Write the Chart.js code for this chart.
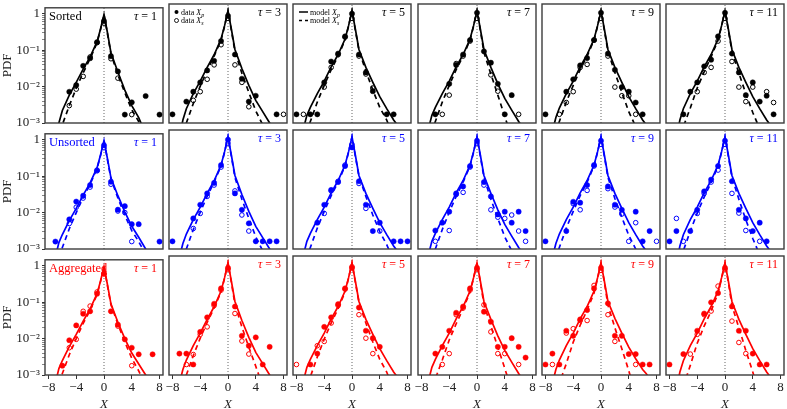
<!DOCTYPE html>
<html>
<head>
<meta charset="utf-8">
<script src="https://cdn.jsdelivr.net/npm/chart.js@4.4.1/dist/chart.umd.min.js"></script>
<style>
  html, body { margin: 0; padding: 0; background: #fff; }
  body { position: relative; width: 787px; height: 409px; overflow: hidden; }
  canvas { position: absolute; }
</style>
</head>
<body>
<script>
// ---- data -----------------------------------------------------------------
const taus = [1, 3, 5, 7, 9, 11];
const rowNames = ['Sorted', 'Unsorted', 'Aggregated'];
const rowColors = ['#000000', '#0000ff', '#ff0000'];

const xTickValues = [-8, -4, 0, 4, 8];
const xTickText = ['\u22128', '\u22124', '0', '4', '8'];
const yTickValues = [0.001, 0.01, 0.1, 1];
const yTickText = ['10\u207B\u00B3', '10\u207B\u00B2', '10\u207B\u00B9', '1'];
const yMinorDigits = [2, 3, 4, 5, 6, 7, 8, 9];

const legendData = ['data', 'data'];
const legendModel = ['model', 'model'];
const legendSubs = ['p', 's'];

// bin centres of the empirical PDFs
const dotX = [-8, -7, -6, -5, -4, -3, -2, -1, 0, 1, 2, 3, 4, 5, 6, 7, 8];
// abscissae at which the model curves are read
const curveX = [-7, -6.5, -6, -5, -4, -3, -2, -1, -0.5, 0, 0.5, 1, 2, 3, 4, 5, 6, 6.5, 7];

// ---- Sorted ----
const sortedDotsG = [
  [null, null, null, .0072, .011, .037, .06, .165, .63, .068, .026, .0017, .0037, null, .0055, null, .0017],
  [.0017, null, .0037, .0068, .012, .025, .045, .15, .7, .066, .015, .0037, .0053, null, null, .0017, null],
  [.0017, null, .0017, .0017, .012, .043, .07, .2, .8, .066, .022, .007, null, .0017, .0017, null, null],
  [null, null, .0017, null, .011, .035, .066, .16, .85, .08, .04, .011, .0017, .0055, null, null, null],
  [.0017, null, null, .0068, .0145, .034, .053, .16, .85, .07, .026, .009, .0068, .0035, .0017, null, null],
  [null, null, .0017, .0068, .012, .032, .048, .2, .85, .07, .022, .0055, .012, .0037, .0053, .0017, null]
];
const sortedDotsV = [
  [null, null, null, .003, .0085, .019, .065, .16, .55, .058, .017, null, .0017, null, null, null, null],
  [null, null, null, .004, .0068, .0145, .035, .12, .6, .035, .012, .0027, null, null, null, null, .0017],
  [null, .0017, null, null, .009, .03, .065, .19, .6, .06, .02, .0085, null, null, null, null, null],
  [null, null, null, .0017, .0055, .038, .06, .15, .6, null, .019, .007, null, null, .0017, null, null],
  [null, null, .0017, .0035, .0068, .03, .036, .16, .6, .06, .009, .0053, .0053, .0017, null, null, null],
  [null, null, null, null, .0068, .022, .03, .15, .6, .043, .009, .0037, .009, null, .0068, .0035, null]
];
const sortedModelG = [
  [.0003, .001, .0022, .0058, .013, .03, .065, .17, .38, .95, .3, .085, .025, .008, .003, .0014, .0005, .0003, .0002],
  [.0004, .0012, .0024, .006, .013, .03, .065, .17, .38, .95, .3, .09, .028, .01, .004, .002, .001, .0006, .0004],
  [.0007, .0016, .0026, .006, .013, .031, .066, .17, .38, .95, .3, .09, .03, .012, .005, .0024, .0012, .0009, .0006],
  [.0007, .0016, .0026, .006, .013, .031, .066, .17, .38, .95, .3, .09, .03, .011, .0045, .0022, .0011, .0008, .0005],
  [.0006, .0014, .0025, .006, .013, .031, .066, .17, .38, .95, .3, .09, .03, .012, .005, .0024, .0012, .0009, .0006],
  [.0004, .0012, .0024, .006, .013, .031, .066, .17, .38, .95, .3, .09, .03, .012, .005, .0024, .0012, .0009, .0006]
];
const sortedModelV = [
  [.0002, .0004, .0009, .003, .009, .024, .058, .16, .37, .95, .28, .08, .021, .0068, .0023, .0011, .0004, .0002, .0001],
  [.0002, .0005, .001, .0033, .0095, .025, .06, .16, .37, .95, .28, .08, .021, .0065, .0021, .0009, .0003, .0002, .0001],
  [.0002, .0006, .0011, .0036, .01, .026, .06, .16, .37, .95, .28, .085, .024, .0075, .0026, .0012, .0004, .0002, .0001],
  [.0002, .0006, .0011, .0036, .01, .026, .06, .16, .37, .95, .28, .075, .02, .0055, .0015, .0004, .0001, .0001, .0001],
  [.0002, .0006, .0011, .0036, .01, .026, .06, .16, .37, .95, .28, .08, .022, .0065, .002, .0008, .0002, .0001, .0001],
  [.0001, .0003, .0008, .0025, .0085, .023, .057, .16, .37, .95, .28, .08, .021, .006, .0019, .0007, .0002, .0001, .0001]
];

// ---- Unsorted ----
const unsortedDotsG = [
  [null, .0016, null, .0065, .02, .029, .057, .145, .7, .07, .012, .015, .0048, .0048, null, null, .0016],
  [.0016, null, null, .0065, .015, .03, .057, .17, .8, .03, .011, .0048, .0016, .0016, .0016, .0016, null],
  [null, null, null, .005, .015, .037, .06, .16, .5, .063, .015, .003, .005, null, .0016, .0016, .0016],
  [null, null, .0031, .005, .0098, .03, .046, .16, .75, .06, .025, .0083, .0098, .005, .0098, .003, null],
  [.0016, null, null, .003, .018, .017, .05, .17, .75, .046, .015, .011, null, .0098, .0016, .003, null],
  [.0016, .003, null, .003, .011, .034, .07, .16, .75, .063, .011, .0065, .003, .005, .0016, null, null]
];
const unsortedDotsV = [
  [null, null, null, .005, .014, .025, .05, .14, .6, .06, .011, .01, .0016, null, null, null, null],
  [null, null, null, .0035, .0088, .025, .05, .15, .65, .035, .008, .003, null, null, null, null, null],
  [null, null, null, null, .0088, .035, .063, .17, .6, .055, .012, null, .003, null, null, null, null],
  [null, null, .0016, null, .0031, .028, .032, .15, .65, .05, .011, .007, .0065, .008, .003, .0016, null],
  [null, null, null, null, .016, .011, .036, .16, .6, .04, .013, .0085, .0016, .005, null, null, .0016],
  [null, .0065, .0016, null, .0088, .03, .06, .125, .6, .03, .009, .0031, null, .0016, null, null, null]
];
const unsortedModelG = [
  [.0006, .0015, .0025, .006, .013, .03, .065, .17, .38, .95, .3, .09, .029, .0105, .0042, .0021, .001, .0007, .0005],
  [.0006, .0014, .0025, .006, .013, .03, .065, .17, .38, .95, .3, .09, .028, .01, .004, .002, .001, .0006, .0004],
  [.0007, .0016, .0026, .006, .013, .031, .066, .17, .38, .95, .3, .09, .03, .012, .005, .0024, .0012, .0009, .0006],
  [.0007, .0016, .0026, .006, .013, .031, .066, .17, .38, .95, .3, .09, .03, .011, .0045, .0022, .0011, .0008, .0005],
  [.0006, .0014, .0025, .006, .013, .031, .066, .17, .38, .95, .3, .09, .03, .012, .005, .0024, .0012, .0009, .0006],
  [.0004, .0012, .0024, .006, .013, .031, .066, .17, .38, .95, .3, .09, .03, .012, .005, .0024, .0012, .0009, .0006]
];
const unsortedModelV = [
  [.0002, .0006, .0011, .0036, .01, .026, .06, .16, .37, .95, .28, .085, .025, .0085, .0032, .0016, .0007, .0004, .0003],
  [.0002, .0005, .001, .0033, .0095, .025, .06, .16, .37, .95, .28, .08, .021, .0065, .0021, .0009, .0003, .0002, .0001],
  [.0002, .0006, .0011, .0036, .01, .026, .06, .16, .37, .95, .28, .085, .025, .008, .0029, .0013, .0005, .0003, .0002],
  [.0002, .0005, .001, .0033, .0095, .025, .06, .16, .37, .95, .28, .08, .021, .0065, .0021, .0009, .0003, .0002, .0001],
  [.0002, .0006, .0011, .0036, .01, .026, .06, .16, .37, .95, .28, .08, .022, .007, .0023, .001, .0003, .0002, .0001],
  [.0002, .0004, .0009, .003, .009, .024, .058, .16, .37, .95, .28, .08, .021, .006, .0019, .0007, .0002, .0001, .0001]
];

// ---- Aggregated ----
const aggregatedDotsG = [
  [null, null, .0018, .009, .023, .048, .056, .17, .6, .056, .024, .0095, .0056, .0037, null, .0037, null],
  [null, .0037, .0037, .0019, .014, .034, .078, .2, .7, .066, .011, .006, .01, .0019, .0056, null, null],
  [null, null, .0019, .0037, .019, .034, .076, .2, .7, .062, .015, .0095, .0056, null, null, null, null],
  [null, null, .0037, .0056, .015, .045, .066, .2, .7, .048, .026, .0056, .0056, .0095, .0056, .0029, null],
  [.0019, .0037, .0019, .015, .011, .03, .053, .2, .7, .08, .011, .011, .0036, .0036, .0019, .0019, null],
  [.0019, null, .0036, null, .015, .043, .085, .15, .7, .066, .015, .015, .0037, .0019, .0019, null, null]
];
const aggregatedDotsV = [
  [null, null, null, .0056, .0095, .056, .078, .19, .6, null, .022, null, .0018, null, null, null, null],
  [null, null, .0019, .0035, .012, .019, .07, .18, .65, .043, .008, .0036, null, null, null, null, null],
  [.0019, null, null, .006, .0078, .024, .07, .19, .75, .04, .0095, .0037, null, null, null, null, null],
  [null, null, null, .0019, .0037, .04, .06, .18, .65, .073, .014, .0037, .0037, null, .0019, null, null],
  [null, .0019, null, .013, .017, .028, .028, .24, .6, .04, .0078, null, null, .0019, null, null, null],
  [null, null, null, .0036, .012, .04, .05, .23, .65, .027, .0073, .0037, null, null, null, null, null]
];
const aggregatedModelG = [
  [.0006, .0015, .0025, .006, .013, .03, .065, .17, .38, .95, .3, .09, .028, .01, .004, .002, .001, .0006, .0004],
  [.0006, .0014, .0025, .006, .013, .03, .065, .17, .38, .95, .3, .09, .028, .01, .004, .002, .001, .0006, .0004],
  [.0007, .0016, .0026, .006, .013, .031, .066, .17, .38, .95, .3, .09, .03, .012, .005, .0024, .0012, .0009, .0006],
  [.0007, .0016, .0026, .006, .013, .031, .066, .17, .38, .95, .3, .09, .03, .011, .0045, .0022, .0011, .0008, .0005],
  [.0006, .0014, .0025, .006, .013, .031, .066, .17, .38, .95, .3, .09, .032, .013, .0055, .0027, .0014, .0011, .0008],
  [.0004, .0012, .0024, .006, .013, .031, .066, .17, .38, .95, .3, .09, .03, .012, .005, .0024, .0012, .0009, .0006]
];
const aggregatedModelV = [
  [.0002, .0006, .0011, .0036, .01, .026, .06, .16, .37, .95, .28, .085, .025, .008, .0029, .0013, .0005, .0003, .0002],
  [.0002, .0005, .001, .0033, .0095, .025, .06, .16, .37, .95, .28, .075, .019, .0055, .0017, .0005, .0001, .0001, .0001],
  [.0002, .0004, .0009, .003, .009, .024, .058, .16, .37, .95, .28, .085, .024, .0075, .0026, .0012, .0004, .0002, .0001],
  [.0001, .0003, .0008, .0025, .0085, .023, .057, .16, .37, .95, .28, .075, .02, .0055, .0015, .0004, .0001, .0001, .0001],
  [.0001, .0002, .0006, .002, .0075, .021, .053, .15, .36, .95, .28, .072, .018, .005, .0013, .0003, .0001, .0001, .0001],
  [.0001, .0002, .0005, .0018, .007, .02, .05, .15, .35, .95, .28, .07, .018, .0045, .0012, .0003, .0001, .0001, .0001]
];

const dotsG = [sortedDotsG, unsortedDotsG, aggregatedDotsG];
const dotsV = [sortedDotsV, unsortedDotsV, aggregatedDotsV];
const modelG = [sortedModelG, unsortedModelG, aggregatedModelG];
const modelV = [sortedModelV, unsortedModelV, aggregatedModelV];

// ---- layout ---------------------------------------------------------------
const SERIF = '"Liberation Serif", "DejaVu Serif", serif';
const Y_MIN = 0.001, Y_MAX = 1.45;
const X_MIN = -8.5, X_MAX = 8.5;
const zeroLineX = [0, 0];
const zeroLineY = [Y_MIN, Y_MAX];

const PANEL_W = 118, PANEL_H = 119;
const PANEL_LEFT0 = 45, PANEL_PITCH_X = 124.2;
const PANEL_TOP0 = 4, PANEL_PITCH_Y = 126;
const AXIS_W = 45, AXIS_H = 38, PAD_T = 6, PAD_R = 6;

Chart.defaults.font.family = SERIF;

const yMinorTicks = [];
yTickValues.slice(0, -1).forEach(d => yMinorDigits.forEach(m => yMinorTicks.push(d * m)));
const yAllTicks = yTickValues.concat(yMinorTicks).sort((a, b) => a - b);

function pts(xs, ys) {
  return xs.map((x, i) => ({ x: x, y: ys[i] })).filter(p => p.y != null);
}
function isMajorY(v) {
  return yTickValues.some(t => Math.abs(t - v) < t * 1e-6);
}

// frame, panel titles and legends
const panelDecor = {
  id: 'panelDecor',
  afterDatasetsDraw(chart, args, opts) {
    const { ctx, chartArea: a } = chart;
    const color = rowColors[opts.row];
    ctx.save();
    ctx.strokeStyle = '#3c3c3c';
    ctx.lineWidth = 1.4;
    ctx.strokeRect(a.left, a.top, a.right - a.left, a.bottom - a.top);

    ctx.fillStyle = color;
    ctx.textBaseline = 'alphabetic';
    ctx.textAlign = 'left';
    if (opts.col === 0) {
      ctx.font = '12.5px ' + SERIF;
      ctx.fillText(rowNames[opts.row], a.left + 4, a.top + 12);
    }
    const rest = ' = ' + taus[opts.col];
    ctx.font = '12px ' + SERIF;
    const wRest = ctx.measureText(rest).width;
    ctx.font = 'italic 12px ' + SERIF;
    const wTau = ctx.measureText('\u03C4').width;
    const xEnd = a.right - 6;
    ctx.fillText('\u03C4', xEnd - wRest - wTau, a.top + 12);
    ctx.font = '12px ' + SERIF;
    ctx.fillText(rest, xEnd - wRest, a.top + 12);

    // legends in the first row
    if (opts.row === 0 && (opts.col === 1 || opts.col === 2)) {
      ctx.fillStyle = '#000';
      ctx.strokeStyle = '#000';
      for (let k = 0; k < 2; k++) {
        const yy = a.top + 8 + k * 8.5;
        let tx;
        if (opts.col === 1) {
          ctx.beginPath();
          ctx.arc(a.left + 7.5, yy, 2, 0, Math.PI * 2);
          ctx.lineWidth = 0.9;
          if (k === 0) ctx.fill(); else ctx.stroke();
          tx = a.left + 12;
        } else {
          ctx.lineWidth = 1.5;
          ctx.beginPath();
          if (k === 0) {
            ctx.moveTo(a.left + 6, yy); ctx.lineTo(a.left + 15, yy);
          } else {
            ctx.moveTo(a.left + 6, yy); ctx.lineTo(a.left + 9, yy);
            ctx.moveTo(a.left + 12, yy); ctx.lineTo(a.left + 15, yy);
          }
          ctx.stroke();
          tx = a.left + 17;
        }
        const word = (opts.col === 1 ? legendData[k] : legendModel[k]) + ' ';
        ctx.font = '8px ' + SERIF;
        ctx.fillText(word, tx, yy + 2.5);
        tx += ctx.measureText(word).width;
        ctx.font = 'italic 8px ' + SERIF;
        ctx.fillText('X', tx, yy + 2.5);
        tx += ctx.measureText('X').width;
        ctx.font = 'italic 6px ' + SERIF;
        ctx.fillText(legendSubs[k], tx, yy + 4.5);
      }
    }
    ctx.restore();
  }
};

function makePanel(row, col) {
  const isLeft = col === 0;
  const isBottom = row === 2;
  const color = rowColors[row];
  const pl = PANEL_LEFT0 + col * PANEL_PITCH_X;
  const pt = PANEL_TOP0 + row * PANEL_PITCH_Y;

  const canvas = document.createElement('canvas');
  const cw = PANEL_W + AXIS_W + PAD_R;
  const ch = PANEL_H + AXIS_H + PAD_T;
  canvas.width = cw; canvas.height = ch;
  canvas.style.width = cw + 'px'; canvas.style.height = ch + 'px';
  canvas.style.left = Math.round(pl - AXIS_W) + 'px';
  canvas.style.top = (pt - PAD_T) + 'px';
  document.body.appendChild(canvas);

  new Chart(canvas.getContext('2d'), {
    type: 'line',
    data: {
      datasets: [
        {
          label: 'data Xp', data: pts(dotX, dotsG[row][col]), showLine: false,
          pointRadius: 2.6, pointBackgroundColor: color, pointBorderColor: color,
          pointBorderWidth: 0.5, order: 0
        },
        {
          label: 'data Xs', data: pts(dotX, dotsV[row][col]), showLine: false,
          pointRadius: 2.3, pointBackgroundColor: 'rgba(255,255,255,0)', pointBorderColor: color,
          pointBorderWidth: 1, order: 0
        },
        {
          label: 'model Xp', data: pts(curveX, modelG[row][col]), borderColor: color,
          borderWidth: 1.7, pointRadius: 0, tension: 0, order: 1
        },
        {
          label: 'model Xs', data: pts(curveX, modelV[row][col]), borderColor: color,
          borderWidth: 1.7, borderDash: [5, 4], pointRadius: 0, tension: 0, order: 1
        },
        {
          label: 'zero', data: pts(zeroLineX, zeroLineY), borderColor: '#555',
          borderWidth: 0.9, borderDash: [1, 2], pointRadius: 0, order: 2
        }
      ]
    },
    options: {
      responsive: false,
      animation: false,
      devicePixelRatio: 1,
      events: [],
      layout: { padding: { left: 0, top: PAD_T, right: PAD_R, bottom: 0 } },
      scales: {
        x: {
          type: 'linear', min: X_MIN, max: X_MAX,
          afterBuildTicks: s => { s.ticks = xTickValues.map(v => ({ value: v })); },
          afterFit: s => { s.height = AXIS_H; },
          border: { display: false },
          grid: { display: isBottom, drawOnChartArea: false, tickLength: 4, color: '#333' },
          ticks: {
            display: isBottom, autoSkip: false, maxRotation: 0, padding: 1,
            color: '#222', font: { family: SERIF, size: 13 },
            callback: v => { const i = xTickValues.indexOf(v); return i >= 0 ? xTickText[i] : ''; }
          },
          title: {
            display: isBottom, text: 'X', color: '#222',
            font: { family: SERIF, size: 13, style: 'italic' }, padding: { top: 0, bottom: 1 }
          }
        },
        y: {
          type: 'logarithmic', min: Y_MIN, max: Y_MAX,
          afterBuildTicks: s => { s.ticks = yAllTicks.map(v => ({ value: v, major: isMajorY(v) })); },
          afterFit: s => { s.width = AXIS_W; },
          border: { display: false },
          grid: {
            display: isLeft, drawOnChartArea: false, tickLength: 3, color: '#333',
            tickWidth: c => (c.tick && isMajorY(c.tick.value)) ? 1 : 0.6
          },
          ticks: {
            display: isLeft, autoSkip: false, padding: 2,
            color: '#222', font: { family: SERIF, size: 13 },
            callback: v => { const i = yTickValues.findIndex(t => Math.abs(t - v) < t * 1e-6); return i >= 0 ? yTickText[i] : ''; }
          },
          title: {
            display: isLeft, text: 'PDF', color: '#222',
            font: { family: SERIF, size: 13 }, padding: { top: 0, bottom: 0 }
          }
        }
      },
      plugins: {
        legend: { display: false },
        tooltip: { enabled: false },
        panelDecor: { row: row, col: col }
      }
    },
    plugins: [panelDecor]
  });
}

for (let r = 0; r < 3; r++) {
  for (let c = 0; c < 6; c++) makePanel(r, c);
}
</script>
</body>
</html>
